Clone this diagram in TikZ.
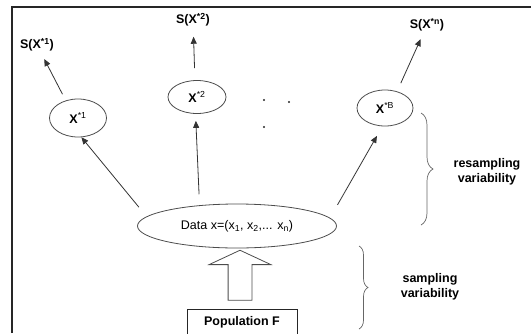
\documentclass[tikz,border=0pt]{standalone}
\usepackage{fontspec}
\setmainfont{Liberation Sans}
\usetikzlibrary{shapes.geometric, shapes.arrows, arrows.meta, decorations.pathreplacing}

\begin{document}
\begin{tikzpicture}[
        x=1pt, y=-1pt,
        font=\fontsize{12.5}{15.5}\selectfont,
        sample/.style={ellipse, draw=black!70, line width=0.8pt, inner sep=0pt},
        stat/.style={inner sep=2pt, font=\fontsize{12.5}{15.5}\selectfont\bfseries},
        arrow/.style={-{Triangle[length=7pt, width=6pt]}, line width=0.8pt, color=black!80},
        lift/.style={single arrow, draw=black!70, line width=0.8pt, shape border rotate=90, inner xsep=11.5pt, inner ysep=0pt, minimum height=50pt, minimum width=61pt, single arrow head extend=19pt, single arrow tip angle=130},
        curly/.style={decorate, decoration={brace}, draw=black!60, line width=0.7pt},
        note/.style={align=center, font=\fontsize{12.5}{15.5}\selectfont\bfseries}
    ]
        \useasboundingbox (0,0) rectangle (531,333);
        \draw[line width=1.4pt, black!85] (12,333) -- (12,7) -- (531,7);
        % data and the resamples
        \node[sample, minimum width=199pt, minimum height=44pt] (data) at (237,226) {Data x=(x\textsubscript{1}, x\textsubscript{2},... x\textsubscript{n})};
        \node[sample, minimum width=57pt, minimum height=38pt] (x1) at (78,118) {\textbf{X}\textsuperscript{*1}};
        \node[sample, minimum width=58pt, minimum height=33pt] (x2) at (197,97) {\textbf{X}\textsuperscript{*2}};
        \node[sample, minimum width=56pt, minimum height=36pt] (xb) at (385,108) {\textbf{X}\textsuperscript{*B}};
        \node[stat] (s1) at (37,45) {S(X\textsuperscript{*1})};
        \node[stat] (s2) at (193,20) {S(X\textsuperscript{*2})};
        \node[stat] (sn) at (427,25) {S(X\textsuperscript{*n})};
        \node[draw=black!85, line width=0.8pt, minimum width=110pt, minimum height=26pt, font=\fontsize{12.5}{15.5}\selectfont\bfseries] (pop) at (242,322) {Population F};
        \node[lift] (up) at (240,278) {};
        \foreach \d in {(264,100), (289,102), (264,127)}
            \fill[black!85] \d circle (1.2);
        \draw[arrow, shorten <=12pt] (data.174) -- (x1.-80);
        \draw[arrow, shorten <=11pt, shorten >=7pt] (data.151) -- (x2.-95);
        \draw[arrow, shorten <=15pt, shorten >=11pt] (data.5) -- (xb.-98);
        \draw[arrow, shorten <=7pt, shorten >=6pt] (x1.125) -- (s1);
        \draw[arrow, shorten <=12pt, shorten >=8pt] (x2.97) -- (s2);
        \draw[arrow, shorten <=9pt, shorten >=6pt] (xb.54) -- (sn);
        % variability braces
        \draw[curly, decoration={amplitude=12pt}] (421,113) -- (421,225);
        \draw[curly, decoration={amplitude=9pt}] (359,246) -- (359,329);
        \node[note] (resamp) at (487,172) {resampling\\variability};
        \node[note] (samp) at (430,287) {sampling\\variability};
    \end{tikzpicture}
\end{document}
